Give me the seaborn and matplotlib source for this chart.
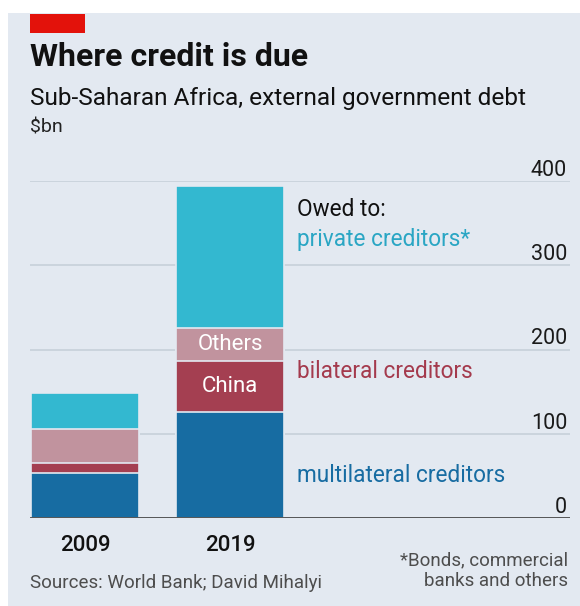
import matplotlib
matplotlib.use('Agg')
import matplotlib.pyplot as plt
import pandas as pd
import seaborn as sns
from matplotlib.patches import Rectangle

years = ['2009', '2019']
multilateral = [53, 126]
china = [12, 60]
others = [41, 39]
private = [42, 169]

BG = '#e3e9f1'
C_MULTI = '#176ca2'
C_CHINA = '#a43f51'
C_OTHERS = '#c1939e'
C_PRIVATE = '#33b8d0'

sns.set_style('white')
plt.rcParams['font.family'] = ['Roboto', 'DejaVu Sans']

df = pd.DataFrame({'year': years, 'multilateral': multilateral, 'china': china,
                   'others': others, 'private': private})
df['c_multi'] = df['multilateral']
df['c_china'] = df['c_multi'] + df['china']
df['c_others'] = df['c_china'] + df['others']
df['c_private'] = df['c_others'] + df['private']

fig = plt.figure(figsize=(5.8, 6.06), dpi=100)
fig.patch.set_facecolor('white')
fig.patches.append(Rectangle((8 / 580, 0), 1, 1 - 13 / 606, transform=fig.transFigure,
                             facecolor=BG, edgecolor='none', zorder=-10))
fig.patches.append(Rectangle((30 / 580, 1 - 33 / 606), 55 / 580, 19 / 606,
                             transform=fig.transFigure, facecolor='#e3120b',
                             edgecolor='none'))

ax = fig.add_axes([30 / 580, 88 / 606, 540 / 580, 337 / 606])
ax.set_facecolor(BG)

# stacked bars drawn as overlapping cumulative totals, tallest first
for col, color in [('c_private', C_PRIVATE), ('c_others', C_OTHERS),
                   ('c_china', C_CHINA), ('c_multi', C_MULTI)]:
    sns.barplot(data=df, x='year', y=col, color=color, width=0.745, ax=ax,
                saturation=1, edgecolor=BG, linewidth=1.2, zorder=3)

ax.set_xlim(-0.38, 3.345)
ax.set_ylim(0, 400)
for s in ax.spines.values():
    s.set_visible(False)
ax.axhline(0, color='#4a4a4a', lw=2, zorder=5)
ax.set_yticks([0, 100, 200, 300, 400])
ax.yaxis.grid(True, color='#c4ced8', lw=1.1)
ax.set_axisbelow(True)
ax.yaxis.tick_right()
ax.tick_params(axis='y', length=0, pad=-2, labelsize=15.5, labelcolor='#1a1a1a')
for lab in ax.get_yticklabels():
    lab.set_horizontalalignment('right')
    lab.set_verticalalignment('bottom')
ax.tick_params(axis='x', length=7, width=1.2, color='#4a4a4a', pad=5,
               labelsize=16, labelcolor='#111111')
for lab in ax.get_xticklabels():
    lab.set_fontweight('medium')
ax.set_xlabel('')
ax.set_ylabel('')

# labels inside the 2019 bar
ax.text(1, df['c_china'][1] + others[1] / 2, 'Others', color='white', ha='center',
        va='center', fontsize=16)
ax.text(1, df['c_multi'][1] + china[1] / 2, 'China', color='white', ha='center',
        va='center', fontsize=16)

# side annotations
ax.text(1.46, 366, 'Owed to:', color='#111111', fontsize=16.3, va='center')
ax.text(1.46, 330, 'private creditors*', color='#2aa6c4', fontsize=16.3, va='center')
ax.text(1.46, 174, 'bilateral creditors', color='#a43a4d', fontsize=16.3, va='center')
ax.text(1.46, 51, 'multilateral creditors', color='#176ca2', fontsize=16.3, va='center')

fig.text(30 / 580, 1 - 57 / 606, 'Where credit is due', fontsize=23, fontweight='bold',
         va='center', color='#111111')
fig.text(30 / 580, 1 - 98 / 606, 'Sub-Saharan Africa, external government debt',
         fontsize=17.6, va='center', color='#111111')
fig.text(30 / 580, 1 - 128 / 606, '$bn', fontsize=14, va='center', color='#222222')
fig.text(30 / 580, 1 - 583 / 606, 'Sources: World Bank; David Mihalyi', fontsize=13.5,
         va='center', color='#4d4d4d')
fig.text(568 / 580, 1 - 571 / 606, '*Bonds, commercial\nbanks and others',
         fontsize=13.5, va='center', ha='right', color='#4d4d4d', linespacing=1.2)

fig.savefig('out.png', dpi=100, facecolor=fig.get_facecolor())
